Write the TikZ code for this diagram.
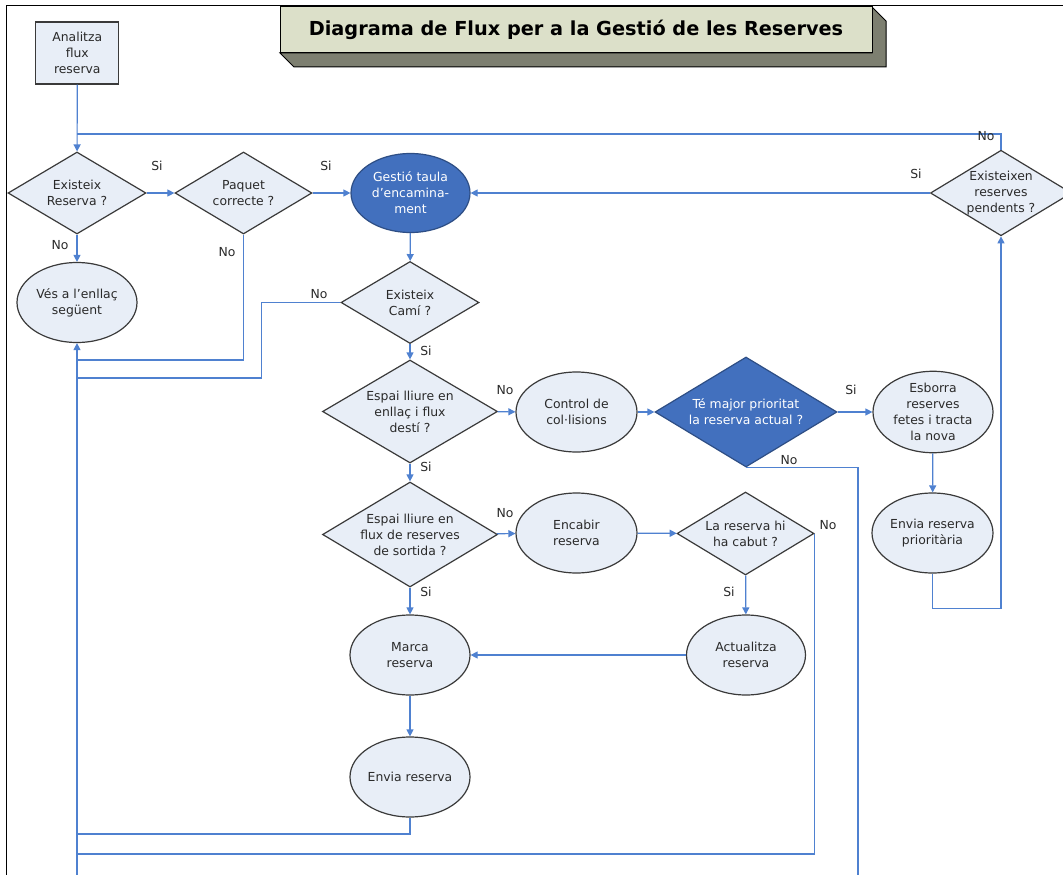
\documentclass[tikz,border=0pt]{standalone}
\usepackage{fontspec}
\setmainfont{DejaVu Sans}
\usepackage{tikz}
\usetikzlibrary{shapes.geometric,arrows.meta}

\definecolor{lightfill}{HTML}{E8EEF7}
\definecolor{linkblue}{HTML}{4F81D0}
\definecolor{darkfill}{HTML}{4270BE}
\definecolor{titlefill}{HTML}{DCE0C9}
\definecolor{titleshade}{HTML}{7D7F70}
\definecolor{shapeline}{HTML}{3A3A3A}
\definecolor{textgrey}{HTML}{2A2A2A}

\tikzset{
  BoxStyle/.style={rectangle,draw=shapeline,fill=lightfill,line width=1.2pt,
    minimum width=83pt,minimum height=62pt,align=center,inner sep=0pt},
  DecisionStyle/.style={diamond,draw=shapeline,fill=lightfill,line width=1.2pt,
    aspect=1.65,align=center,inner sep=0pt},
  ProcessStyle/.style={ellipse,draw=shapeline,fill=lightfill,line width=1.2pt,
    minimum width=120pt,minimum height=80pt,align=center,inner sep=0pt},
  DarkStyle/.style={fill=darkfill,draw=darkfill!70!black,text=white},
  EdgeStyle/.style={draw=linkblue,line width=1.2pt,>={Triangle[length=7pt,width=7pt]}},
  LabelStyle/.style={inner sep=0pt}
}

\begin{document}
\begin{tikzpicture}[x=1pt,y=-1pt,font=\fontsize{12.4}{16}\selectfont,text=textgrey]
\useasboundingbox[fill=white] (0,0) rectangle (1063,875);
\draw[line width=1pt] (6,875) -- (6,6) -- (1063,6);

\filldraw[fill=titleshade,draw=black,line width=1pt] (280,53) -- (294,67) -- (886,67) -- (886,21) -- (872,7) -- (872,53) -- cycle;
\node[rectangle,draw=black,fill=titlefill,line width=1pt,minimum width=592pt,minimum height=46pt,text=black,
  font=\fontsize{19.3}{22}\selectfont\bfseries] (title) at (576,30) {Diagrama de Flux per a la Gestió de les Reserves};

\node[BoxStyle] (analitza) at (77.3,53) {Analitza\\flux\\reserva};
\node[DecisionStyle,minimum width=138pt,minimum height=82pt] (existeix) at (77,193) {Existeix\\Reserva ?};
\node[DecisionStyle,minimum width=137pt,minimum height=82pt] (paquet) at (243.5,193) {Paquet\\correcte ?};
\node[ProcessStyle,DarkStyle,minimum width=119pt,minimum height=79pt] (gestio) at (410.5,193) {Gestió taula\\d’encamina-\\ment};
\node[DecisionStyle,minimum width=137pt,minimum height=83pt] (existeixen) at (1001,193) {Existeixen\\reserves\\pendents ?};
\node[ProcessStyle] (ves) at (77,302.5) {Vés a l’enllaç\\següent};
\node[DecisionStyle,minimum width=138pt,minimum height=82pt] (cami) at (410,302.5) {Existeix\\Camí ?};
\node[DecisionStyle,minimum width=175pt,minimum height=103pt] (espai1) at (410,411.5) {Espai lliure en\\enllaç i flux\\destí ?};
\node[ProcessStyle,minimum width=121pt] (control) at (576.5,412) {Control de\\col·lisions};
\node[DecisionStyle,DarkStyle,minimum width=182pt,minimum height=110pt] (prioritat) at (746,412) {Té major prioritat\\la reserva actual ?};
\node[ProcessStyle,minimum height=79pt] (esborra) at (933,412) {Esborra\\reserves\\fetes i tracta\\la nova};
\node[ProcessStyle,minimum width=121pt] (enviaprio) at (932.5,533) {Envia reserva\\prioritària};
\node[DecisionStyle,minimum width=175pt,minimum height=105pt] (espai2) at (410,534.5) {Espai lliure en\\flux de reserves\\de sortida ?};
\node[ProcessStyle,minimum width=121pt] (encabir) at (576.5,533) {Encabir\\reserva};
\node[DecisionStyle,minimum width=137pt,minimum height=83pt] (cabut) at (745.5,533.5) {La reserva hi\\ha cabut ?};
\node[ProcessStyle,minimum width=119pt] (actualitza) at (746,655) {Actualitza\\reserva};
\node[ProcessStyle] (marca) at (410,655) {Marca\\reserva};
\node[ProcessStyle] (envia) at (410,777) {Envia reserva};

\coordinate (loop) at (77,134);
\coordinate (j1) at (77,360);
\coordinate (j2) at (77,378);
\coordinate (j3) at (77,834);
\coordinate (j4) at (77,854);
\coordinate (bot) at (77,875);
\coordinate (bot2) at (858,875);

\draw[EdgeStyle,->] (analitza) -- (existeix);
\draw[EdgeStyle] (existeixen.north) |- (loop);
\draw[EdgeStyle,->] (existeix) -- (paquet);
\draw[EdgeStyle,->] (paquet) -- (gestio);
\draw[EdgeStyle,->] (existeix) -- (ves);
\draw[EdgeStyle] (paquet.south) |- (j1);
\draw[EdgeStyle,->] (existeixen) -- (gestio);
\draw[EdgeStyle,->] (gestio) -- (cami);
\draw[EdgeStyle] (cami.west) -- ++(-79,0) |- (j2);
\draw[EdgeStyle,->] (bot) -- (ves);
\draw[EdgeStyle,->] (cami) -- (espai1);
\draw[EdgeStyle,->] (espai1) -- (control);
\draw[EdgeStyle,->] (control) -- (prioritat);
\draw[EdgeStyle,->] (prioritat) -- (esborra);
\draw[EdgeStyle] (prioritat.south) -| (bot2);
\draw[EdgeStyle,->] (esborra) -- (enviaprio);
\draw[EdgeStyle,->] (enviaprio.south) -- ++(0,35) -| (existeixen.south);
\draw[EdgeStyle,->] (espai1) -- (espai2);
\draw[EdgeStyle,->] (espai2) -- (encabir);
\draw[EdgeStyle,->] (encabir) -- (cabut);
\draw[EdgeStyle] (cabut.east) |- (j4);
\draw[EdgeStyle,->] (cabut) -- (actualitza);
\draw[EdgeStyle,->] (actualitza) -- (marca);
\draw[EdgeStyle,->] (espai2) -- (marca);
\draw[EdgeStyle,->] (marca) -- (envia);
\draw[EdgeStyle] (envia.south) |- (j3);

\node[LabelStyle] (s1) at (157,166) {Si};
\node[LabelStyle] (s2) at (326,166) {Si};
\node[LabelStyle] (s3) at (916,174) {Si};
\node[LabelStyle] (n1) at (986,136) {No};
\node[LabelStyle] (n2) at (60,245) {No};
\node[LabelStyle] (n3) at (227,252) {No};
\node[LabelStyle] (n4) at (319,294) {No};
\node[LabelStyle] (s4) at (426,351) {Si};
\node[LabelStyle] (n5) at (505,390) {No};
\node[LabelStyle] (s5) at (851,390) {Si};
\node[LabelStyle] (n6) at (789,460) {No};
\node[LabelStyle] (s6) at (426,467) {Si};
\node[LabelStyle] (n7) at (505,513) {No};
\node[LabelStyle] (n8) at (828,525) {No};
\node[LabelStyle] (s7) at (426,592) {Si};
\node[LabelStyle] (s8) at (729,592) {Si};
\end{tikzpicture}
\end{document}
